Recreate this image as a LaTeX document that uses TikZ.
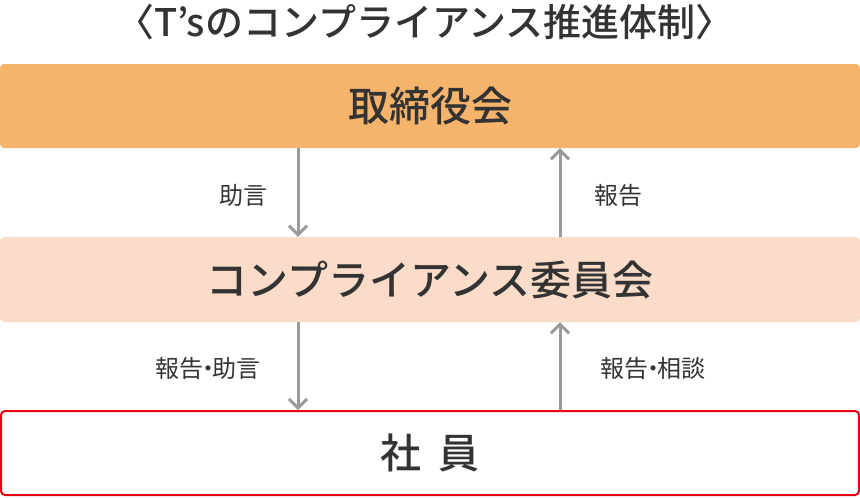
\documentclass[tikz,border=0pt]{standalone}
\usepackage{fontspec}
\setmainfont{Noto Sans CJK JP}[BoldFont={Noto Sans CJK JP Medium}]
\usetikzlibrary{arrows.meta}
\definecolor{boardorange}{HTML}{F6B36B}
\definecolor{compeach}{HTML}{FBDCC8}
\definecolor{staffred}{HTML}{E50012}
\definecolor{flowgray}{HTML}{9A9A9A}
\definecolor{inkgray}{HTML}{333333}
\tikzset{
  layer/.style = {minimum width=860pt, minimum height=84pt, inner sep=0pt,
    rounded corners=4pt, text=inkgray, font=\fontsize{41}{44}\selectfont\bfseries},% band
  flow/.style = {-{Straight Barb[length=9pt,width=18pt,line width=3pt]},
    flowgray, line width=3pt},
  note/.style = {text=inkgray, font=\fontsize{24}{28}\selectfont},
}
\begin{document}
\begin{tikzpicture}[x=1pt,y=1pt]
  \useasboundingbox (0,0) rectangle (860,-498);
%   title and bands
  \node[text=inkgray, font=\fontsize{38}{40}\selectfont\bfseries] (title) at (425,-22) {〈T’sのコンプライアンス推進体制〉};
  \node[layer, fill=boardorange] (board) at (430,-106) {取締役会};
  \node[layer, fill=compeach, minimum height=85pt] (comm) at (430,-279.5) {コンプライアンス委員会};
  \node[layer, fill=white, draw=staffred, line width=2pt, minimum width=858pt] (staff) at (430,-453) {社\hspace{0.4em}員};
%   arrow columns
  \coordinate (down) at (298,0);
  \coordinate (up) at (560,0);
  \draw[flow] (board.south -| down) -- (comm.north -| down);
  \draw[flow] (comm.north -| up) -- (board.south -| up);
  \draw[flow] (comm.south -| down) -- (staff.north -| down);
  \draw[flow] (staff.north -| up) -- (comm.south -| up);
%   labels
  \node[note] (advice) at (243,-195) {助言};
  \node[note] (report) at (618,-195) {報告};
  \node[note] (repadv) at (208,-368) {報告\kern-0.3em・\kern-0.3em助言};
  \node[note] (repcon) at (653,-368) {報告\kern-0.3em・\kern-0.3em相談};
\end{tikzpicture}
\end{document}
